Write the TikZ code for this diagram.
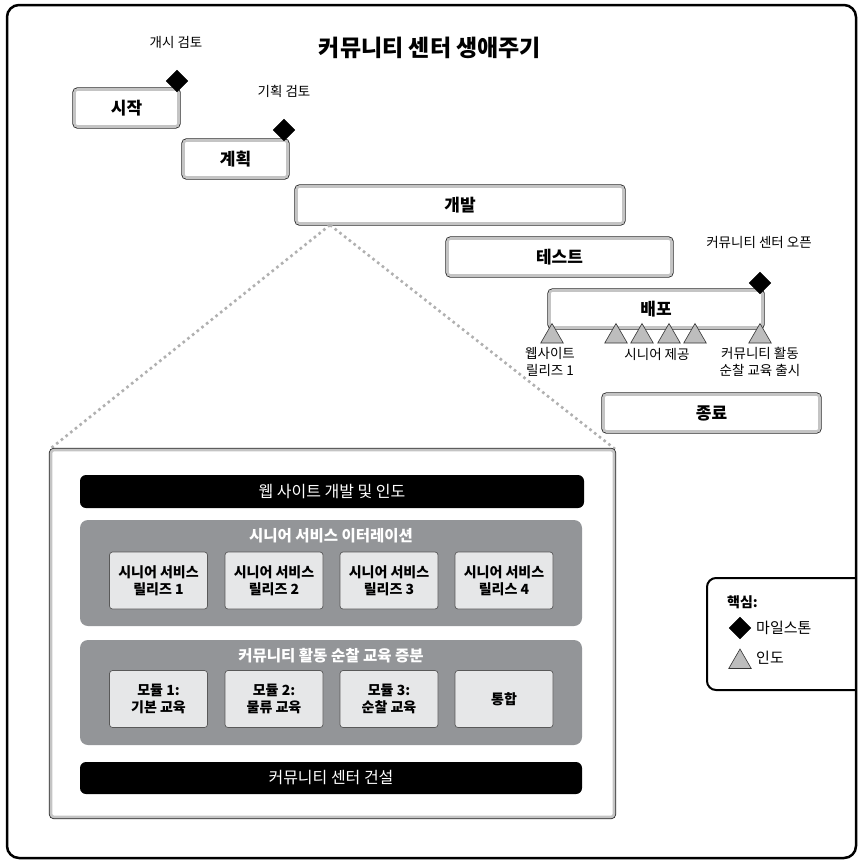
\documentclass[tikz,border=0pt]{standalone}
\usepackage{fontspec}
\setmainfont{Noto Sans CJK KR}
\usetikzlibrary{shapes.geometric}
\definecolor{bandgray}{HTML}{C4C4C4}
\definecolor{contgray}{HTML}{939598}
\definecolor{cellgray}{HTML}{E6E7E8}
\definecolor{trigray}{HTML}{BDBDBD}
\definecolor{dotgray}{HTML}{B0B0B0}
\tikzset{
  phase/.style={draw=bandgray, line width=2.6pt, fill=white, rounded corners=3pt,
    preaction={draw=black!85, line width=4.2pt, rounded corners=3pt},
    inner sep=0pt, font=\fontsize{17}{19}\selectfont\bfseries},
  mile/.style={diamond, fill=black, draw=black, minimum size=22pt, inner sep=0pt},
  deliv/.style={regular polygon, regular polygon sides=3, fill=trigray, draw=black!80,
    line width=0.6pt, minimum size=26pt, inner sep=0pt},
  lbl/.style={font=\fontsize{13.5}{17}\selectfont, align=center, inner sep=0pt},
  bar/.style={fill=black, rounded corners=6pt, text=white, inner sep=0pt,
    font=\fontsize{16}{18}\selectfont},
  cont/.style={fill=contgray, rounded corners=8pt, inner sep=0pt},
  conttitle/.style={text=white, font=\fontsize{15.5}{17}\selectfont\bfseries, inner sep=0pt},
  cell/.style={fill=cellgray, draw=black!65, line width=0.7pt, rounded corners=3pt,
    minimum width=98pt, minimum height=57pt, inner sep=0pt, align=center,
    font=\fontsize{14}{17}\selectfont\bfseries},
  dotline/.style={dotgray, line width=2.6pt, dash pattern=on 2.6pt off 3.4pt},
}
\begin{document}
\begin{tikzpicture}[x=1pt,y=-1pt]
\useasboundingbox (0,0) rectangle (864,868);
% legend (under frame)
\draw[line width=2pt, rounded corners=9pt, fill=white] (856,578) -| (707,690) -- (856,690);
\node[font=\fontsize{14}{16}\selectfont\bfseries, anchor=west, inner sep=0pt] (keyt) at (727,602) {핵심:};
\node[mile, minimum size=22pt] (keyd) at (740,628) {};
\node[font=\fontsize{15}{17}\selectfont, anchor=west, inner sep=0pt] (keydl) at (756,628) {마일스톤};
\node[deliv] (keytri) at (740,662) {};
\node[font=\fontsize{15}{17}\selectfont, anchor=west, inner sep=0pt] (keytl) at (756,658) {인도};
% outer frame
\draw[line width=2.5pt, rounded corners=12pt] (7,5) rectangle (856,858);
% title
\node[font=\fontsize{23}{25}\selectfont\bfseries, inner sep=0pt] (title) at (430,48) {커뮤니티 센터 생애주기};
% phases
\node[phase, minimum width=104pt, minimum height=37pt] (start) at (126.5,108) {시작};
\node[phase, minimum width=104pt, minimum height=37pt] (plan) at (235.5,159) {계획};
\node[phase, minimum width=327pt, minimum height=37pt] (dev) at (460,205) {개발};
\node[phase, minimum width=224pt, minimum height=37pt] (test) at (559.5,257) {테스트};
\node[phase, minimum width=213pt, minimum height=37pt] (deploy) at (656,309) {배포};
\node[phase, minimum width=216pt, minimum height=37pt] (close) at (711.5,413) {종료};
% milestones
\node[mile] (m1) at (177,81) {};
\node[mile] (m2) at (284,130) {};
\node[mile] (m3) at (760,283) {};
\node[lbl] (m1l) at (176,42) {개시 검토};
\node[lbl] (m2l) at (284,91) {기획 검토};
\node[lbl] (m3l) at (759,242) {커뮤니티 센터 오픈};
% deliveries
\node[deliv] (d1) at (552,336.5) {};
\node[deliv] (d2) at (616,336.5) {};
\node[deliv] (d3) at (642,336.5) {};
\node[deliv] (d4) at (669,336.5) {};
\node[deliv] (d5) at (695,336.5) {};
\node[deliv] (d6) at (760,336.5) {};
\node[lbl] (d1l) at (550,362) {웹사이트\\릴리즈 1};
\node[lbl] (d2l) at (657,354) {시니어 제공};
\node[lbl] (d6l) at (760,362) {커뮤니티 활동\\순찰 교육 출시};
% zoom lines
\coordinate (zo) at (330,225);
\coordinate (zl) at (50,449);
\coordinate (zr) at (615,449);
\draw[dotline] (zo) -- (zl);
\draw[dotline] (zo) -- (zr);
% detail panel
\node[draw=bandgray, line width=2.6pt, fill=white, rounded corners=3pt,
    preaction={draw=black!85, line width=4.2pt, rounded corners=3pt},
    minimum width=563pt, minimum height=367pt, inner sep=0pt] (panel) at (332.5,633.5) {};
\node[bar, minimum width=504pt, minimum height=33pt] (web) at (332,491.5) {웹 사이트 개발 및 인도};
\node[cont, minimum width=502pt, minimum height=106pt] (iter) at (331,573) {};
\node[conttitle] (itert) at (331,536) {시니어 서비스 이터레이션};
\node[cell] (r1) at (158.5,580.5) {시니어 서비스\\릴리즈 1};
\node[cell] (r2) at (274,580.5) {시니어 서비스\\릴리즈 2};
\node[cell] (r3) at (389,580.5) {시니어 서비스\\릴리즈 3};
\node[cell] (r4) at (504,580.5) {시니어 서비스\\릴리스 4};
\node[cont, minimum width=502pt, minimum height=105pt] (patrol) at (331,692.5) {};
\node[conttitle] (patrolt) at (331,656) {커뮤니티 활동 순찰 교육 증분};
\node[cell] (c1) at (158.5,699) {모듈 1:\\기본 교육};
\node[cell] (c2) at (274,699) {모듈 2:\\물류 교육};
\node[cell] (c3) at (389,699) {모듈 3:\\순찰 교육};
\node[cell] (c4) at (504,699) {통합};
\node[bar, minimum width=502pt, minimum height=32pt] (build) at (331,778) {커뮤니티 센터 건설};
\end{tikzpicture}
\end{document}
